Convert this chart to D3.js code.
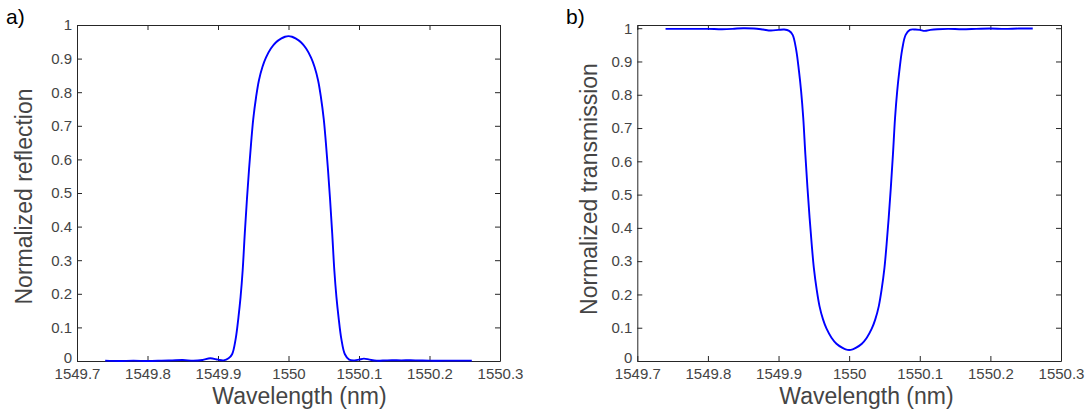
<!DOCTYPE html>
<html>
<head>
<meta charset="utf-8">
<script src="https://cdn.jsdelivr.net/npm/d3@7"></script>
<style>
  body { margin: 0; background: #fff; }
  svg { display: block; font-family: "Liberation Sans", Arial, sans-serif; }
</style>
</head>
<body>
<svg id="chart" width="1086" height="416"></svg>
<script>
// wavelength samples (nm), shared by both traces
const wavelength = [
  1549.740, 1549.760, 1549.780, 1549.800, 1549.820, 1549.835, 1549.850, 1549.865,
  1549.878, 1549.889, 1549.900, 1549.908, 1549.915, 1549.920, 1549.925, 1549.929,
  1549.932, 1549.935, 1549.938, 1549.941, 1549.944, 1549.947, 1549.950, 1549.954,
  1549.958, 1549.963, 1549.968, 1549.975, 1549.982, 1549.990, 1549.995, 1550.000,
  1550.005, 1550.010, 1550.018, 1550.025, 1550.032, 1550.037, 1550.042, 1550.046,
  1550.050, 1550.053, 1550.056, 1550.059, 1550.062, 1550.065, 1550.068, 1550.071,
  1550.075, 1550.080, 1550.086, 1550.094, 1550.100, 1550.107, 1550.115, 1550.125,
  1550.140, 1550.160, 1550.180, 1550.200, 1550.220, 1550.240, 1550.260
];

const reflection = [
  0.001, 0.000, 0.001, 0.000, 0.001, 0.002, 0.003, 0.001,
  0.003, 0.008, 0.004, 0.002, 0.008, 0.020, 0.065, 0.130,
  0.190, 0.270, 0.380, 0.480, 0.570, 0.650, 0.720, 0.785,
  0.835, 0.875, 0.903, 0.930, 0.948, 0.960, 0.965, 0.967,
  0.965, 0.960, 0.948, 0.930, 0.903, 0.875, 0.835, 0.785,
  0.720, 0.650, 0.570, 0.480, 0.380, 0.270, 0.190, 0.130,
  0.065, 0.020, 0.004, 0.002, 0.004, 0.007, 0.004, 0.001,
  0.002, 0.002, 0.002, 0.001, 0.001, 0.001, 0.001
];

const transmission = [
  0.998, 0.998, 0.998, 0.998, 0.997, 0.998, 1.000, 0.999,
  0.996, 0.993, 0.995, 0.996, 0.992, 0.980, 0.935, 0.870,
  0.810, 0.730, 0.620, 0.520, 0.430, 0.350, 0.280, 0.215,
  0.165, 0.125, 0.097, 0.070, 0.052, 0.040, 0.035, 0.033,
  0.035, 0.040, 0.052, 0.070, 0.097, 0.125, 0.165, 0.215,
  0.280, 0.350, 0.430, 0.520, 0.620, 0.730, 0.810, 0.870,
  0.935, 0.980, 0.995, 0.996, 0.995, 0.992, 0.995, 0.997,
  0.998, 0.997, 0.998, 0.999, 0.998, 0.999, 0.999
];

const xTicks = [1549.7, 1549.8, 1549.9, 1550, 1550.1, 1550.2, 1550.3];
const yTicks = [0, 0.1, 0.2, 0.3, 0.4, 0.5, 0.6, 0.7, 0.8, 0.9, 1];

const panels = [
  { tag: "a)", ylabel: "Normalized reflection", values: reflection,
    left: 77, right: 500, top: 25, bottom: 361, ymax: 1, tagX: 6,
    ylabelX: 32, ylabelY: 196.5, xlabelX: 299.5 },
  { tag: "b)", ylabel: "Normalized transmission", values: transmission,
    left: 637.3, right: 1061, top: 25, bottom: 361, ymax: 1.0096, tagX: 566,
    ylabelX: 597, ylabelY: 189, xlabelX: 866.5 }
];

const axisColor = "#262626",
  textColor = "#444",
  fmt = d => String(+d.toFixed(1));

const svg = d3.select("#chart");

panels.forEach(p => {
  let x = d3.scaleLinear().domain([1549.7, 1550.3]).range([p.left, p.right]);
  let y = d3.scaleLinear().domain([0, p.ymax]).range([p.bottom, p.top]);
  let g = svg.append("g");

  g.append("g")
    .attr("transform", `translate(0,${p.bottom})`)
    .call(d3.axisBottom(x).tickValues(xTicks).tickFormat(fmt).tickSize(-5).tickPadding(7).tickSizeOuter(0));
  g.append("g")
    .attr("transform", `translate(0,${p.top})`)
    .call(d3.axisTop(x).tickValues(xTicks).tickFormat("").tickSize(-5).tickSizeOuter(0));
  g.append("g")
    .attr("class", "yaxis")
    .attr("transform", `translate(${p.left},0)`)
    .call(d3.axisLeft(y).tickValues(yTicks).tickFormat(fmt).tickSize(-5).tickPadding(5).tickSizeOuter(0));
  g.append("g")
    .attr("transform", `translate(${p.right},0)`)
    .call(d3.axisRight(y).tickValues(yTicks).tickFormat("").tickSize(-5).tickSizeOuter(0));

  g.selectAll(".domain").attr("stroke", axisColor).attr("stroke-width", 1);
  g.selectAll(".tick line").attr("stroke", axisColor);
  g.selectAll(".tick text")
    .attr("fill", textColor)
    .style("font-size", "15px")
    .style("font-family", "'Liberation Sans', Arial, sans-serif");
  // lift the bottom "0" a touch so it clears the first x label
  g.select(".yaxis").selectAll(".tick text").filter(d => d === 0).attr("dy", "0.1em");

  let pts = wavelength.map((w, i) => [w, p.values[i]]);
  g.append("path")
    .datum(pts)
    .attr("fill", "none")
    .attr("stroke", "#0000ff")
    .attr("stroke-width", 1.9)
    .attr("d", d3.line().x(d => x(d[0])).y(d => y(d[1])).curve(d3.curveCatmullRom.alpha(0.5)));

  g.append("text")
    .attr("x", p.xlabelX)
    .attr("y", 404)
    .attr("text-anchor", "middle")
    .attr("fill", textColor)
    .style("font-size", "23px")
    .text("Wavelength (nm)");

  g.append("text")
    .attr("transform", `translate(${p.ylabelX},${p.ylabelY}) rotate(-90)`)
    .attr("text-anchor", "middle")
    .attr("fill", textColor)
    .style("font-size", "23px")
    .text(p.ylabel);

  g.append("text")
    .attr("x", p.tagX)
    .attr("y", 24)
    .attr("fill", "#000")
    .style("font-size", "21px")
    .text(p.tag);
});
</script>
</body>
</html>
